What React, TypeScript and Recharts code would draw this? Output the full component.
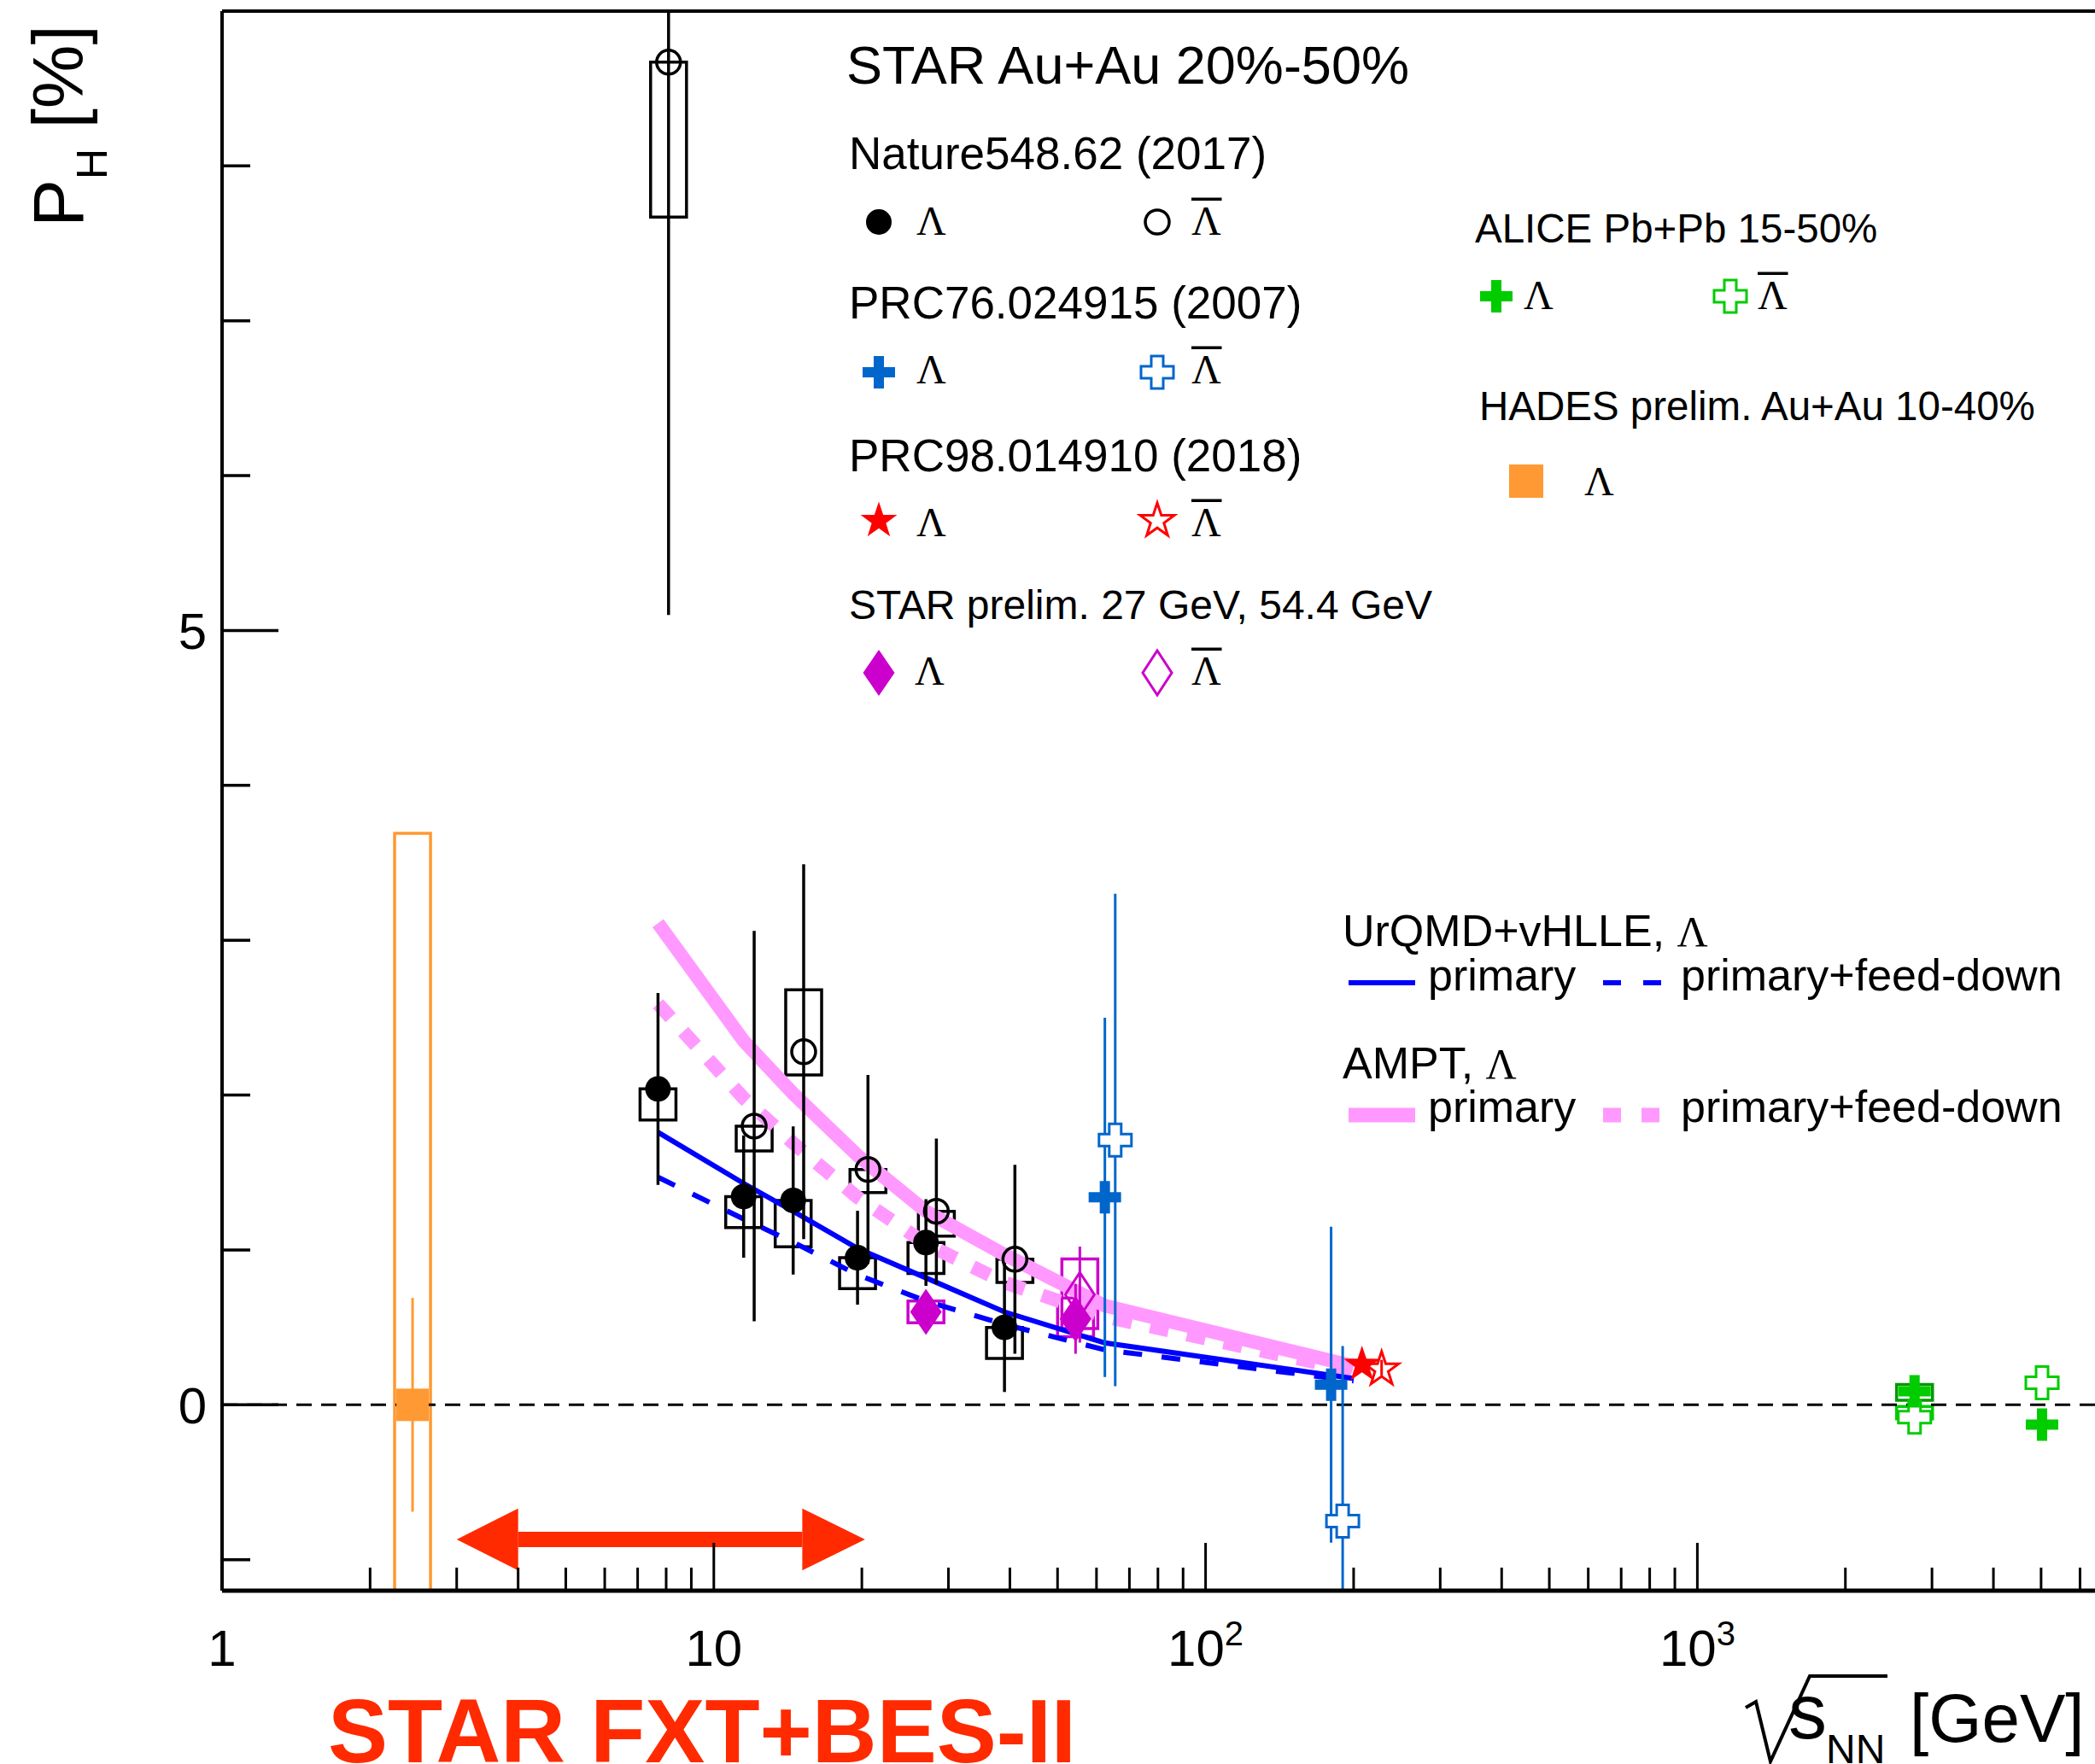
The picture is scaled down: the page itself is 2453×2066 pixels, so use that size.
import React from "react";
import {
  ComposedChart,
  Line,
  Scatter,
  XAxis,
  YAxis,
  ErrorBar,
  ReferenceArea,
  ReferenceLine,
} from "recharts";

const W = 2453;
const H = 2066;
const SANS = "'Liberation Sans', Arial, Helvetica, sans-serif";
const SERIF = "'Liberation Serif', 'Times New Roman', serif";

const BLACK = "#000000";
const BLUE = "#0066cc";
const RED = "#ff0000";
const MAGENTA = "#cc00cc";
const GREEN = "#00cc00";
const DKGREEN = "#009900";
const ORANGE = "#ff9933";
const PINK = "#ff99ff";
const UBLUE = "#0000ff";
const FXT = "#ff2a00";

// STAR Au+Au, Nature 548, 62 (2017)
const natLamE = [7.7, 11.5, 14.5, 19.6, 27, 39];
const natLamP = [2.04, 1.345, 1.32, 0.95, 1.048, 0.5];
const natLamStat = [0.62, 0.395, 0.478, 0.303, 0.28, 0.417];
const natLamSysLo = [0.2, 0.2, 0.3, 0.2, 0.2, 0.2];
const natLamSysHi = [0, 0, 0, 0, 0, 0];

const natBarE = [8.09, 12.08, 15.23, 20.58, 28.35, 40.95];
const natBarP = [8.67, 1.8, 2.28, 1.52, 1.25, 0.94];
const natBarStat = [3.57, 1.26, 1.21, 0.61, 0.47, 0.61];
const natBarSysLo = [1.0, 0.16, 0.15, 0.15, 0.16, 0.15];
const natBarSysHi = [0, 0, 0.4, 0, 0, 0];

// STAR, PRC 76, 024915 (2007)
const prc76LamE = [62.4, 180];
const prc76LamP = [1.34, 0.13];
const prc76LamStat = [1.16, 1.02];
const prc76BarE = [65.5, 190];
const prc76BarP = [1.71, -0.75];
const prc76BarStat = [1.59, 1.13];

// STAR, PRC 98, 014910 (2018)
const prc98LamE = [208];
const prc98LamP = [0.27];
const prc98LamStat = [0.04];
const prc98BarE = [228];
const prc98BarP = [0.24];
const prc98BarStat = [0.05];

// STAR preliminary 27 and 54.4 GeV
const prelLamE = [27, 54.4];
const prelLamP = [0.6, 0.555];
const prelLamStat = [0.05, 0.225];
const prelLamSysLo = [0.07, 0.115];
const prelLamSysHi = [0.07, 0.135];
const prelBarE = [55.5];
const prelBarP = [0.712];
const prelBarStat = [0.31];
const prelBarSysLo = [0.22];
const prelBarSysHi = [0.23];

// ALICE Pb+Pb 15-50%
const aliceLamE = [2765, 5023];
const aliceLamP = [0.088, -0.128];
const aliceLamSysLo = [0.058, 0];
const aliceLamSysHi = [0.043, 0];
const aliceBarE = [2765, 5023];
const aliceBarP = [-0.08, 0.143];
const aliceBarSysLo = [0.01, 0];
const aliceBarSysHi = [0.07, 0];

// HADES prelim. Au+Au 10-40%
const hadesE = [2.44];
const hadesP = [0];
const hadesStat = [0.69];
const hadesSysLo = [3.7];
const hadesSysHi = [3.69];

// models
const modelE = [7.7, 11.5, 14.5, 19.6, 27, 39, 62.4, 200];
const urqmdPrim = [1.76, 1.43, 1.25, 1.01, 0.82, 0.6, 0.4, 0.17];
const urqmdFeed = [1.47, 1.2, 1.05, 0.84, 0.67, 0.52, 0.355, 0.155];
const amptPrim = [3.11, 2.35, 2.01, 1.61, 1.25, 0.97, 0.64, 0.25];
const amptFeed = [2.59, 1.98, 1.69, 1.34, 1.04, 0.79, 0.57, 0.22];

// FXT+BES-II energy range arrow
const arrowE = [3.0, 4.0, 15.13, 20.3]; // tip, head base, head base, tip
const arrowP = [-0.869];

// axes
const xTicks = [
  1, 2, 3, 4, 5, 6, 7, 8, 9, 10, 20, 30, 40, 50, 60, 70, 80, 90, 100, 200, 300,
  400, 500, 600, 700, 800, 900, 1000, 2000, 3000, 4000, 5000, 6000,
];
const xMajor = [1, 10, 100, 1000];
const xMajorLabel = ["1", "10", "10", "10"];
const xMajorExp = ["", "", "2", "3"];
const yTicks = [-1, 0, 1, 2, 3, 4, 5, 6, 7, 8];
const yLabelled = [0, 5];
const X_DOMAIN = [1, 6436];
const Y_MIN = -1.2;
const Y_MAX = 9;

const BOX = 1.0877;

type Pt = { e: number; p: number; err: number[]; lo: number; hi: number };
// error bars are cut at the frame, as in the original plot
const pts = (e: number[], p: number[], err?: number[], lo?: number[], hi?: number[]): Pt[] =>
  e.map((v, i) => {
    const s = err ? err[i] : 0;
    return {
      e: v,
      p: p[i],
      err: [Math.min(s, p[i] - Y_MIN), Math.min(s, Y_MAX - p[i])],
      lo: lo ? lo[i] : 0,
      hi: hi ? hi[i] : 0,
    };
  });
const curve = (p: number[]) => modelE.map((e, i) => ({ e, p: p[i] }));

const natLam = pts(natLamE, natLamP, natLamStat, natLamSysLo, natLamSysHi);
const natBar = pts(natBarE, natBarP, natBarStat, natBarSysLo, natBarSysHi);
const prc76Lam = pts(prc76LamE, prc76LamP, prc76LamStat);
const prc76Bar = pts(prc76BarE, prc76BarP, prc76BarStat);
const prc98Lam = pts(prc98LamE, prc98LamP, prc98LamStat);
const prc98Bar = pts(prc98BarE, prc98BarP, prc98BarStat);
const prelLam = pts(prelLamE, prelLamP, prelLamStat, prelLamSysLo, prelLamSysHi);
const prelBar = pts(prelBarE, prelBarP, prelBarStat, prelBarSysLo, prelBarSysHi);
const aliceLam = pts(aliceLamE, aliceLamP, undefined, aliceLamSysLo, aliceLamSysHi);
const aliceBar = pts(aliceBarE, aliceBarP, undefined, aliceBarSysLo, aliceBarSysHi);
const hades = pts(hadesE, hadesP, hadesStat, hadesSysLo, hadesSysHi);

// ---- marker drawing ----
type Draw = (cx: number, cy: number) => React.ReactElement;

const crossD = (cx: number, cy: number, s: number, t: number) =>
  `M${cx - t},${cy - s}H${cx + t}V${cy - t}H${cx + s}V${cy + t}H${cx + t}V${cy + s}H${cx - t}V${cy + t}H${cx - s}V${cy - t}H${cx - t}Z`;

const starD = (cx: number, cy: number, R: number, r: number) => {
  const a: string[] = [];
  for (let k = 0; k < 10; k++) {
    const rad = k % 2 === 0 ? R : r;
    const ang = -Math.PI / 2 + (k * Math.PI) / 5;
    a.push(`${(cx + rad * Math.cos(ang)).toFixed(1)},${(cy + rad * Math.sin(ang)).toFixed(1)}`);
  }
  return "M" + a.join("L") + "Z";
};

const fullCircle: Draw = (cx, cy) => <circle cx={cx} cy={cy} r={15} fill={BLACK} />;
const openCircle: Draw = (cx, cy) => (
  <circle cx={cx} cy={cy} r={14} fill="none" stroke={BLACK} strokeWidth={3.5} />
);
const fullCross = (c: string): Draw => (cx, cy) => <path d={crossD(cx, cy, 19, 6)} fill={c} />;
const openCross = (c: string): Draw => (cx, cy) => (
  <path d={crossD(cx, cy, 19, 7)} fill="#fff" stroke={c} strokeWidth={3} />
);
const fullStar: Draw = (cx, cy) => <path d={starD(cx, cy + 2, 22.5, 8.8)} fill={RED} />;
const openStar: Draw = (cx, cy) => (
  <path d={starD(cx, cy + 2, 21, 8.2)} fill="none" stroke={RED} strokeWidth={3} />
);
const fullDiamond: Draw = (cx, cy) => (
  <path d={`M${cx},${cy - 27}L${cx + 18.5},${cy}L${cx},${cy + 27}L${cx - 18.5},${cy}Z`} fill={MAGENTA} />
);
const openDiamond: Draw = (cx, cy) => (
  <path
    d={`M${cx},${cy - 26}L${cx + 17},${cy}L${cx},${cy + 26}L${cx - 17},${cy}Z`}
    fill="none"
    stroke={MAGENTA}
    strokeWidth={3}
  />
);
const fullSquare: Draw = (cx, cy) => <rect x={cx - 19} y={cy - 19} width={38} height={38} fill={ORANGE} />;

const shape = (d: Draw) => (props: any) =>
  props.cx == null || props.cy == null ? <g /> : d(props.cx, props.cy);

// ---- axis ticks ----
const XTick = (props: any) => {
  const { x, y, payload } = props;
  const v = payload.value;
  const mi = xMajor.indexOf(v);
  const len = mi >= 0 ? 56 : 27;
  return (
    <g>
      <line x1={x} x2={x} y1={y} y2={y - len} stroke={BLACK} strokeWidth={3} />
      {mi >= 0 && (
        <text x={x} y={y + 88} textAnchor="middle" fontSize={60} fontFamily={SANS} fill={BLACK}>
          {xMajorLabel[mi]}
          {xMajorExp[mi] && (
            <tspan dy={-24} fontSize={40}>
              {xMajorExp[mi]}
            </tspan>
          )}
        </text>
      )}
    </g>
  );
};

const YTick = (props: any) => {
  const { x, y, payload } = props;
  const v = payload.value;
  const major = yLabelled.includes(v);
  return (
    <g>
      <line x1={x} x2={x + (major ? 66 : 33)} y1={y} y2={y} stroke={BLACK} strokeWidth={3.5} />
      {major && (
        <text x={x - 18} y={y} dy="0.36em" textAnchor="end" fontSize={60} fontFamily={SANS} fill={BLACK}>
          {v}
        </text>
      )}
    </g>
  );
};

const sysBoxes = (data: Pt[], color: string, key: string, overflow: any = "visible") =>
  data
    .filter((d) => d.lo > 0 || d.hi > 0)
    .map((d, i) => (
      <ReferenceArea
        key={key + i}
        x1={d.e / BOX}
        x2={d.e * BOX}
        y1={d.p - d.lo}
        y2={d.p + d.hi}
        fill="none"
        stroke={color}
        strokeWidth={3.5}
        ifOverflow={overflow}
      />
    ));

const triLeft = (props: any) => {
  const { x, y, width, height } = props;
  return <path d={`M${x},${y + height / 2}L${x + width},${y}L${x + width},${y + height}Z`} fill={FXT} />;
};
const triRight = (props: any) => {
  const { x, y, width, height } = props;
  return <path d={`M${x + width},${y + height / 2}L${x},${y}L${x},${y + height}Z`} fill={FXT} />;
};

// ---- overlay text (legends, titles) ----
const Lam = ({ x, y, bar, size = 48 }: { x: number; y: number; bar?: boolean; size?: number }) => (
  <g>
    <text x={x} y={y} fontSize={size} fontFamily={SERIF} fill={BLACK}>
      Λ
    </text>
    {bar && <line x1={x} x2={x + size * 0.74} y1={y - size * 0.87} y2={y - size * 0.87} stroke={BLACK} strokeWidth={3.5} />}
  </g>
);

function Overlay() {
  const t = { fontFamily: SANS, fill: BLACK };
  return (
    <svg width={W} height={H} style={{ position: "absolute", left: 0, top: 0, pointerEvents: "none" }}>
      {/* y title */}
      <text transform="translate(97,266) rotate(-90)" fontSize={84} {...t}>
        P
        <tspan fontSize={50} dy={28}>
          H
        </tspan>
        <tspan dy={-28}> [%]</tspan>
      </text>

      {/* x title */}
      <path d="M2044,2000 L2056,1993 L2073,2063 L2119,1963 L2210,1963" fill="none" stroke={BLACK} strokeWidth={4} />
      <text x={2094} y={2036} fontSize={90} {...t}>
        s
      </text>
      <text x={2138} y={2065} fontSize={48} {...t}>
        NN
      </text>
      <text x={2236} y={2040} fontSize={80} {...t}>
        [GeV]
      </text>

      <text x={384} y={2064} fontSize={105} fontWeight="bold" fontFamily={SANS} fill={FXT}>
        STAR FXT+BES-II
      </text>

      {/* data legend */}
      <text x={991} y={98} fontSize={63} {...t}>
        STAR Au+Au 20%-50%
      </text>
      <text x={994} y={198} fontSize={53} {...t}>
        Nature548.62 (2017)
      </text>
      {fullCircle(1029, 260)}
      <Lam x={1073} y={275} />
      {openCircle(1355, 260)}
      <Lam x={1395} y={275} bar />

      <text x={994} y={373} fontSize={53} {...t}>
        PRC76.024915 (2007)
      </text>
      {fullCross(BLUE)(1029, 436)}
      <Lam x={1073} y={449} />
      {openCross(BLUE)(1355, 436)}
      <Lam x={1395} y={449} bar />

      <text x={994} y={552} fontSize={53} {...t}>
        PRC98.014910 (2018)
      </text>
      {fullStar(1029, 608)}
      <Lam x={1073} y={628} />
      {openStar(1355, 608)}
      <Lam x={1395} y={628} bar />

      <text x={994} y={725} fontSize={48} {...t}>
        STAR prelim. 27 GeV, 54.4 GeV
      </text>
      {fullDiamond(1029, 788)}
      <Lam x={1071} y={802} />
      {openDiamond(1355, 788)}
      <Lam x={1395} y={802} bar />

      <text x={1727} y={284} fontSize={47.5} {...t}>
        ALICE Pb+Pb 15-50%
      </text>
      {fullCross(GREEN)(1752, 347)}
      <Lam x={1784} y={362} />
      {openCross(GREEN)(2026, 347)}
      <Lam x={2058} y={362} bar />

      <text x={1732} y={492} fontSize={47.5} {...t}>
        HADES prelim. Au+Au 10-40%
      </text>
      <rect x={1767} y={544} width={40} height={39} fill={ORANGE} />
      <Lam x={1855} y={580} />

      {/* model legend */}
      <text x={1572} y={1108} fontSize={52} {...t}>
        UrQMD+vHLLE,{" "}
        <tspan fontFamily={SERIF} fontSize={50}>
          Λ
        </tspan>
      </text>
      <line x1={1579} x2={1657} y1={1151} y2={1151} stroke={UBLUE} strokeWidth={6} />
      <text x={1672} y={1160} fontSize={52} {...t}>
        primary
      </text>
      <line x1={1877} x2={1945} y1={1151} y2={1151} stroke={UBLUE} strokeWidth={6} strokeDasharray="21 26" />
      <text x={1968} y={1160} fontSize={52} {...t}>
        primary+feed-down
      </text>

      <text x={1572} y={1263} fontSize={52} {...t}>
        AMPT,{" "}
        <tspan fontFamily={SERIF} fontSize={50}>
          Λ
        </tspan>
      </text>
      <line x1={1579} x2={1657} y1={1306} y2={1306} stroke={PINK} strokeWidth={17} />
      <text x={1672} y={1314} fontSize={52} {...t}>
        primary
      </text>
      <line x1={1877} x2={1945} y1={1306} y2={1306} stroke={PINK} strokeWidth={17} strokeDasharray="21 24" />
      <text x={1968} y={1314} fontSize={52} {...t}>
        primary+feed-down
      </text>
    </svg>
  );
}

export default function App() {
  return (
    <div style={{ position: "absolute", left: 0, top: 0, width: W, height: H, background: "#fff" }}>
      <ComposedChart width={W} height={H} margin={{ top: 13, right: 0, bottom: 0, left: 0 }}>
        <XAxis
          dataKey="e"
          type="number"
          scale="log"
          domain={X_DOMAIN}
          allowDataOverflow
          ticks={xTicks}
          interval={0}
          height={203}
          tickLine={false}
          tickSize={0}
          tickMargin={0}
          tick={<XTick />}
          axisLine={{ stroke: BLACK, strokeWidth: 5 }}
        />
        <YAxis
          dataKey="p"
          type="number"
          domain={[Y_MIN, Y_MAX]}
          allowDataOverflow
          ticks={yTicks}
          interval={0}
          width={260}
          tickLine={false}
          tickSize={0}
          tickMargin={0}
          tick={<YTick />}
          axisLine={{ stroke: BLACK, strokeWidth: 4 }}
        />
        <ReferenceLine y={Y_MAX} stroke={BLACK} strokeWidth={4} ifOverflow="visible" />
        <ReferenceLine y={0} stroke={BLACK} strokeWidth={3} strokeDasharray="18 11" />

        <Line data={curve(amptPrim)} dataKey="p" type="linear" stroke={PINK} strokeWidth={16} dot={false} activeDot={false} isAnimationActive={false} />
        <Line data={curve(amptFeed)} dataKey="p" type="linear" stroke={PINK} strokeWidth={16} strokeDasharray="22 22" dot={false} activeDot={false} isAnimationActive={false} />
        <Line data={curve(urqmdPrim)} dataKey="p" type="linear" stroke={UBLUE} strokeWidth={6} dot={false} activeDot={false} isAnimationActive={false} />
        <Line data={curve(urqmdFeed)} dataKey="p" type="linear" stroke={UBLUE} strokeWidth={6} strokeDasharray="22 23" dot={false} activeDot={false} isAnimationActive={false} />

        {sysBoxes(hades, ORANGE, "hd", "hidden")}
        {sysBoxes(natLam, BLACK, "nl")}
        {sysBoxes(natBar, BLACK, "nb")}
        {sysBoxes(prelLam, MAGENTA, "pl")}
        {sysBoxes(prelBar, MAGENTA, "pb")}
        {sysBoxes(aliceLam, DKGREEN, "al")}
        {sysBoxes(aliceBar, GREEN, "ab")}

        <ReferenceArea x1={arrowE[1]} x2={arrowE[2]} y1={arrowP[0] - 0.05} y2={arrowP[0] + 0.05} fill={FXT} fillOpacity={1} stroke="none" />
        <ReferenceArea x1={arrowE[0]} x2={arrowE[1]} y1={arrowP[0] - 0.2} y2={arrowP[0] + 0.2} shape={triLeft} />
        <ReferenceArea x1={arrowE[2]} x2={arrowE[3]} y1={arrowP[0] - 0.2} y2={arrowP[0] + 0.2} shape={triRight} />

        <Scatter data={hades} shape={shape(fullSquare)} isAnimationActive={false}>
          <ErrorBar dataKey="err" direction="y" width={0} stroke={ORANGE} strokeWidth={3} />
        </Scatter>
        <Scatter data={natBar} shape={shape(openCircle)} isAnimationActive={false}>
          <ErrorBar dataKey="err" direction="y" width={0} stroke={BLACK} strokeWidth={3.5} />
        </Scatter>
        <Scatter data={natLam} shape={shape(fullCircle)} isAnimationActive={false}>
          <ErrorBar dataKey="err" direction="y" width={0} stroke={BLACK} strokeWidth={3.5} />
        </Scatter>
        <Scatter data={prelBar} shape={shape(openDiamond)} isAnimationActive={false}>
          <ErrorBar dataKey="err" direction="y" width={0} stroke={MAGENTA} strokeWidth={3} />
        </Scatter>
        <Scatter data={prelLam} shape={shape(fullDiamond)} isAnimationActive={false}>
          <ErrorBar dataKey="err" direction="y" width={0} stroke={MAGENTA} strokeWidth={3} />
        </Scatter>
        <Scatter data={prc76Lam} shape={shape(fullCross(BLUE))} isAnimationActive={false}>
          <ErrorBar dataKey="err" direction="y" width={0} stroke={BLUE} strokeWidth={3} />
        </Scatter>
        <Scatter data={prc76Bar} shape={shape(openCross(BLUE))} isAnimationActive={false}>
          <ErrorBar dataKey="err" direction="y" width={0} stroke={BLUE} strokeWidth={3} />
        </Scatter>
        <Scatter data={prc98Lam} shape={shape(fullStar)} isAnimationActive={false}>
          <ErrorBar dataKey="err" direction="y" width={0} stroke={RED} strokeWidth={3} />
        </Scatter>
        <Scatter data={prc98Bar} shape={shape(openStar)} isAnimationActive={false}>
          <ErrorBar dataKey="err" direction="y" width={0} stroke={RED} strokeWidth={3} />
        </Scatter>
        <Scatter data={aliceBar} shape={shape(openCross(GREEN))} isAnimationActive={false} />
        <Scatter data={aliceLam} shape={shape(fullCross(GREEN))} isAnimationActive={false} />
      </ComposedChart>
      <Overlay />
    </div>
  );
}
